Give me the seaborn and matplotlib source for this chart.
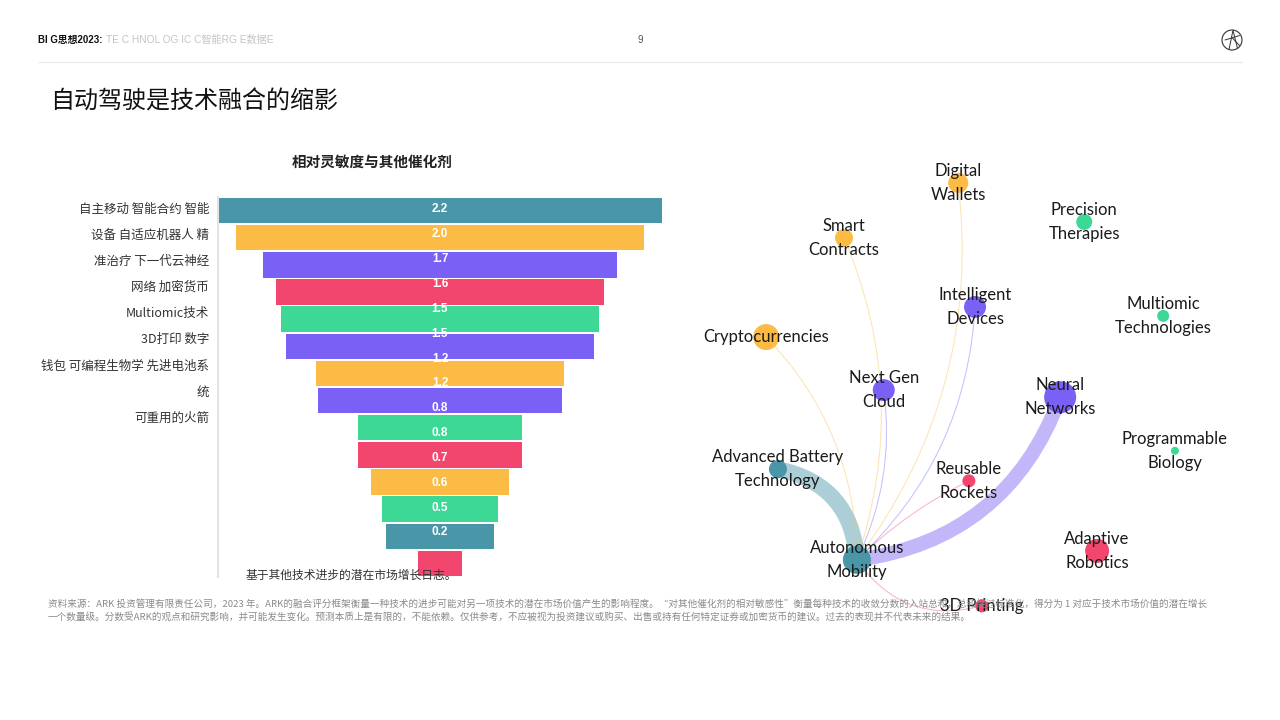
import matplotlib
matplotlib.use("Agg")
import matplotlib.pyplot as plt
import matplotlib.transforms as mtransforms
from matplotlib.patches import FancyArrowPatch, Circle
import seaborn as sns
import numpy as np
import pandas as pd

# ---------------- data ----------------
funnel_values = [2.2, 2.02, 1.75, 1.63, 1.58, 1.53, 1.23, 1.21, 0.81, 0.81, 0.68, 0.57, 0.54, 0.22]
funnel_value_text = ["2.2", "2.0", "1.7", "1.6", "1.5", "1.5", "1.2", "1.2", "0.8", "0.8", "0.7", "0.6", "0.5", "0.2"]
funnel_category_lines = ["自主移动 智能合约 智能", "设备 自适应机器人 精", "准治疗 下一代云神经", "网络 加密货币",
                         "Multiomic技术", "3D打印 数字", "钱包 可编程生物学 先进电池系", "统", "可重用的火箭"]

nodes = ["Digital\nWallets", "Smart\nContracts", "Precision\nTherapies", "Intelligent\nDevices",
         "Multiomic\nTechnologies", "Cryptocurrencies", "Next Gen\nCloud", "Neural\nNetworks",
         "Programmable\nBiology", "Advanced Battery\nTechnology", "Reusable\nRockets",
         "Autonomous\nMobility", "Adaptive\nRobotics", "3D Printing"]
node_x = [47.9, 27.5, 70.4, 50.9, 84.5, 13.6, 34.6, 66.1, 86.6, 15.7, 49.8, 29.8, 72.7, 52.1]
node_y = [93.0, 81.3, 84.7, 66.6, 64.7, 60.2, 48.9, 47.4, 36.0, 32.1, 29.6, 12.8, 14.7, 3.0]
node_radius = [10, 9, 8, 11, 6, 13, 11, 16, 4, 9, 6.5, 14, 12, 6.5]
node_group = ["wallet", "wallet", "bio", "ai", "bio", "wallet", "ai", "ai", "bio", "energy",
              "robot", "energy", "robot", "robot"]

edge_source = "Autonomous\nMobility"
edge_targets = ["Advanced Battery\nTechnology", "Neural\nNetworks", "Cryptocurrencies", "Smart\nContracts",
                "Digital\nWallets", "Intelligent\nDevices", "Next Gen\nCloud", "Reusable\nRockets", "3D Printing"]
edge_weights = [1.0, 0.9, 0.05, 0.05, 0.05, 0.06, 0.06, 0.06, 0.06]

# ---------------- style ----------------
group_colors = {"energy": "#4896a8", "wallet": "#fbbb44", "ai": "#7b60f6", "robot": "#f2466e", "bio": "#3dd896"}
funnel_color_groups = ["energy", "wallet", "ai", "robot", "bio", "ai", "wallet", "ai", "bio", "robot",
                       "wallet", "bio", "energy", "robot"]
edge_rad = [0.38, 0.3, 0.2, 0.19, 0.2, 0.2, 0.15, -0.08, 0.35]

sns.set_theme(style="white")
plt.rcParams['font.family'] = ['Noto Sans CJK SC', 'DejaVu Sans']

fig = plt.figure(figsize=(12.8, 7.2), dpi=100)
W, H = 1280.0, 720.0

# ---------------- header ----------------
fig.text(38 / W, 1 - 40 / H, "BI G思想2023:", fontsize=7, fontweight="bold", color="#111111",
         ha="left", va="center", family=['Liberation Sans', 'Noto Sans CJK SC'])
fig.text(106 / W, 1 - 40 / H, "TE C HNOL OG IC C智能RG E数据E", fontsize=7.3, color="#c4c4c4",
         ha="left", va="center", family=['Liberation Sans', 'Noto Sans CJK SC'])
fig.text(640 / W, 1 - 40 / H, "9", fontsize=7, color="#555555", ha="center", va="center",
         family=['Liberation Sans'])
fig.add_artist(plt.Line2D([38 / W, 1242 / W], [1 - 62 / H, 1 - 62 / H], color="#ececec", lw=1))
logo = fig.add_axes([1220 / W, 1 - 52 / H, 24 / W, 24 / H])
logo.set_xlim(-1.2, 1.2); logo.set_ylim(-1.2, 1.2); logo.set_aspect("equal"); logo.axis("off")
logo.add_patch(Circle((0, 0), 1, fill=False, lw=0.8, color="#333333"))
logo.plot([-0.3, 0.1, 0.55], [-0.95, 0.98, -0.85], color="#333333", lw=0.7)
logo.plot([-0.7, 0.75], [0.0, 0.45], color="#333333", lw=0.7)
logo.plot([-0.05, 0.75], [0.3, -0.55], color="#333333", lw=0.7)

fig.text(50 / W, 1 - 101 / H, "自动驾驶是技术融合的缩影", fontsize=17.3, color="#111111", ha="left", va="center")

# ---------------- funnel ----------------
df = pd.DataFrame({"value": funnel_values,
                   "pos": [str(i) for i in range(len(funnel_values))],
                   "grp": funnel_color_groups})
ax = fig.add_axes([218 / W, 1 - 577 / H, 444 / W, 380 / H])
palette = [group_colors[g] for g in funnel_color_groups]
sns.barplot(data=df, x="value", y="pos", hue="pos", palette=palette, orient="h", width=0.94,
            dodge=False, legend=False, linewidth=0, saturation=1, ax=ax)
for p in ax.patches:
    p.set_x(-p.get_width() / 2)
ax.set_xlim(-1.1, 1.1)
ax.set_ylim(len(funnel_values) - 0.5, -0.5)
ax.set_xticks([]); ax.set_yticks([])
ax.set_xlabel(""); ax.set_ylabel("")
for s in ["top", "right", "bottom"]:
    ax.spines[s].set_visible(False)
ax.spines["left"].set_color("#e3e3e3")
ax.spines["left"].set_linewidth(1.5)
for i, t in enumerate(funnel_value_text):
    ax.text(0, i * 0.915 - 0.04, t, ha="center", va="center", color="white", fontsize=8.5,
            fontweight="bold", family=["Liberation Sans"])
trans = mtransforms.blended_transform_factory(ax.transAxes, ax.transData)
for i, t in enumerate(funnel_category_lines):
    ax.text(-0.02, i * 0.96 - 0.04, t, transform=trans, ha="right", va="center", fontsize=9,
            color="#333333")
fig.text(372 / W, 1 - 162 / H, "相对灵敏度与其他催化剂", fontsize=10.5, fontweight="bold",
         color="#222222", ha="center", va="center")
fig.text(246 / W, 1 - 575 / H, "基于其他技术进步的潜在市场增长日志。", fontsize=8.5, color="#333333",
         ha="left", va="center")

# ---------------- network ----------------
axn = fig.add_axes([690 / W, 1 - 620 / H, 560 / W, 470 / H])
axn.set_xlim(0, 100); axn.set_ylim(0, 100); axn.axis("off")
pos = {n: (x, y) for n, x, y in zip(nodes, node_x, node_y)}
grp = dict(zip(nodes, node_group))
for tgt, w, r in zip(edge_targets, edge_weights, edge_rad):
    thick = w > 0.5
    col = group_colors[grp[tgt]]
    alpha = 0.45 if thick else 0.4
    lw = 11.5 * w if thick else 0.75
    arr = FancyArrowPatch(pos[edge_source], pos[tgt], connectionstyle=f"arc3,rad={r}", arrowstyle="-",
                          lw=lw, color=col, alpha=alpha, shrinkA=0, shrinkB=0, zorder=1,
                          capstyle="round")
    axn.add_patch(arr)

ndf = pd.DataFrame({"x": node_x, "y": node_y, "name": nodes, "area": np.array(node_radius) ** 2})
conv = (2 / 1.389) ** 2
sns.scatterplot(data=ndf, x="x", y="y", hue="name", palette=[group_colors[g] for g in node_group],
                size="area", sizes=(conv * min(node_radius) ** 2, conv * max(node_radius) ** 2),
                legend=False, linewidth=0, zorder=3, ax=axn)
axn.set_xlabel(""); axn.set_ylabel("")
for n, x, y in zip(nodes, node_x, node_y):
    axn.text(x, y, n, ha="center", va="center", fontsize=12, color="#1a1a1a", family=["Lato"],
             linespacing=1.6, zorder=4)

# ---------------- footer ----------------
foot1 = ("资料来源：ARK 投资管理有限责任公司，2023 年。ARK的融合评分框架衡量一种技术的进步可能对另一项技术的潜在市场价值产生的影响程度。"
         "“对其他催化剂的相对敏感性”衡量每种技术的收敛分数的入站总和，总和经过标准化，得分为 1 对应于技术市场价值的潜在增长")
foot2 = ("一个数量级。分数受ARK的观点和研究影响，并可能发生变化。预测本质上是有限的，不能依赖。仅供参考，不应被视为投资建议或购买、出售或持有任何特定证券或加密货币的建议。"
         "过去的表现并不代表未来的结果。")
fig.text(48 / W, 1 - 604 / H, foot1, fontsize=6.9, color="#8a8a8a", ha="left", va="center", zorder=0)
fig.text(48 / W, 1 - 617 / H, foot2, fontsize=6.9, color="#8a8a8a", ha="left", va="center", zorder=0)

fig.savefig("out.png", dpi=100, facecolor="white")
